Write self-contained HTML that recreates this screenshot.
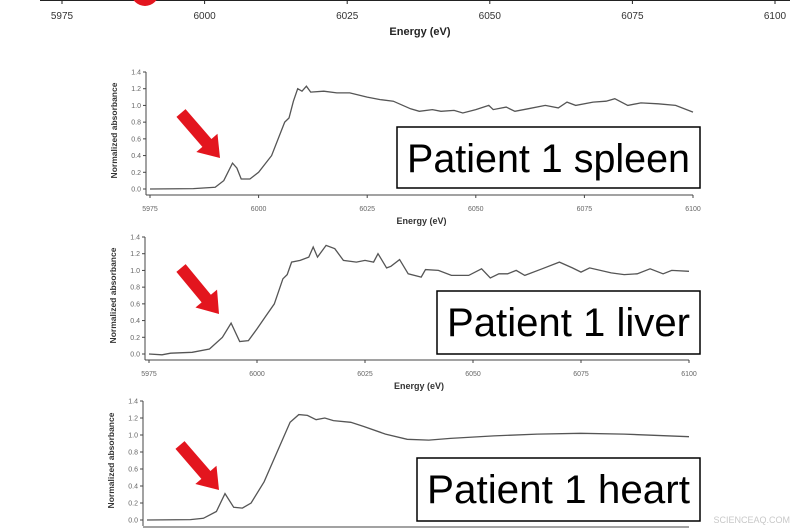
<!DOCTYPE html>
<html><head><meta charset="utf-8"><style>
html,body{margin:0;padding:0;background:#fff;}
body{width:800px;height:530px;overflow:hidden;position:relative;font-family:"Liberation Sans",sans-serif;}
svg{position:absolute;left:0;top:0;}
</style></head><body>
<svg id="chart" width="800" height="530"></svg>
<script>
const ticksX=[5975,6000,6025,6050,6075,6100];
const ticksY=[0,0.2,0.4,0.6,0.8,1.0,1.2,1.4];
const spleenE=[5975,5985,5990,5992,5994,5995,5996,5998,6000,6003,6006,6007,6008,6009,6010,6011,6012,6015,6018,6021,6025,6028,6031,6035,6037,6040,6042,6045,6047,6050,6053,6054,6057,6059,6062,6066,6069,6071,6073,6077,6080,6082,6085,6088,6092,6096,6100];
const spleenV=[0,0.005,0.02,0.1,0.31,0.25,0.12,0.12,0.2,0.4,0.8,0.85,1.05,1.2,1.17,1.23,1.16,1.17,1.15,1.15,1.1,1.07,1.05,0.96,0.93,0.95,0.93,0.94,0.91,0.95,1.0,0.95,0.98,0.93,0.96,1.0,0.97,1.04,1.0,1.04,1.05,1.08,1.0,1.03,1.02,1.0,0.92];
const liverE=[5975,5978,5980,5985,5989,5992,5994,5996,5998,6000,6002,6004,6006,6007,6008,6010,6012,6013,6014,6016,6018,6020,6023,6025,6027,6028,6030,6031,6033,6035,6038,6039,6042,6045,6049,6052,6054,6056,6058,6060,6062,6066,6070,6073,6075,6077,6082,6085,6088,6091,6094,6096,6100];
const liverV=[0,-0.01,0.01,0.02,0.06,0.2,0.37,0.15,0.16,0.3,0.45,0.6,0.9,0.95,1.1,1.12,1.16,1.28,1.16,1.3,1.26,1.12,1.1,1.12,1.1,1.2,1.03,1.05,1.13,0.96,0.92,1.01,1.0,0.94,0.94,1.02,0.91,0.96,0.96,1.0,0.94,1.02,1.1,1.03,0.98,1.03,0.97,0.95,0.96,1.02,0.96,1.0,0.99];
const heartE=[5975,5985,5988,5991,5993,5995,5997,5999,6002,6005,6008,6010,6012,6014,6016,6018,6022,6025,6030,6035,6040,6045,6055,6065,6075,6085,6100];
const heartV=[0,0.005,0.02,0.1,0.31,0.15,0.14,0.2,0.45,0.8,1.15,1.24,1.23,1.18,1.2,1.17,1.15,1.1,1.01,0.95,0.94,0.96,0.99,1.01,1.02,1.01,0.98];

const NS="http://www.w3.org/2000/svg";
const svg=document.getElementById('chart');
function mk(tag,attrs,parent,text){const e=document.createElementNS(NS,tag);for(const k in attrs)e.setAttribute(k,attrs[k]);if(text!==undefined)e.textContent=text;(parent||svg).appendChild(e);return e;}

const topG=mk('g',{});


const tx=v=>62+(v-5975)*(775-62)/125;
mk('line',{x1:40,y1:0.5,x2:790,y2:0.5,stroke:'#222','stroke-width':1},topG);
mk('circle',{cx:145,cy:-8,r:14,fill:'#e3151e'},topG);
ticksX.forEach(v=>{mk('line',{x1:tx(v),y1:0,x2:tx(v),y2:4,stroke:'#222'},topG);
 const t=mk('text',{x:tx(v),y:19,'font-size':10,'text-anchor':'middle',fill:'#333'},topG,String(v));
 
 });
const tt=mk('text',{x:420,y:35,'font-size':11,'font-weight':'bold','text-anchor':'middle',fill:'#222'},topG,'Energy (eV)');



function panel(name,E,V,x0,x1,y0,y14,label,box,arrow,showBottom){
 const g=mk('g',{});
 
 
 const X=v=>x0+(v-5975)*(x1-x0)/125;
 const Y=v=>y0+(v)*(y14-y0)/1.4;
 const base=y0+6;
 mk('line',{x1:x0-4,y1:Y(1.4),x2:x0-4,y2:base,stroke:'#444','stroke-width':1},g);
 ticksY.forEach(v=>{mk('line',{x1:x0-7,y1:Y(v),x2:x0-4,y2:Y(v),stroke:'#444'},g);
  const t=mk('text',{x:x0-9,y:Y(v)+2.5,'font-size':7,'text-anchor':'end',fill:'#666'},g,v.toFixed(1));
  
  });
 const yl=mk('text',{transform:`translate(${x0-33},${(Y(1.4)+y0)/2}) rotate(-90)`,'font-size':8.5,'font-weight':'bold','text-anchor':'middle',fill:'#333'},g,'Normalized absorbance');
 
 
 if(showBottom){
  mk('line',{x1:x0-4,y1:base,x2:x1,y2:base,stroke:'#444'},g);
  ticksX.forEach(v=>{mk('line',{x1:X(v),y1:base,x2:X(v),y2:base+3,stroke:'#444'},g);
   const t=mk('text',{x:X(v),y:base+16,'font-size':7,'text-anchor':'middle',fill:'#666'},g,String(v));
   
   });
  const xl=mk('text',{x:(x0+x1)/2,y:base+29,'font-size':9,'font-weight':'bold','text-anchor':'middle',fill:'#333'},g,'Energy (eV)');
  
  
 } else {
  mk('line',{x1:x0-4,y1:base+1,x2:x1,y2:base+1,stroke:'#444'},g);
 }
 const d=E.map((e,i)=>(i?'L':'M')+X(e).toFixed(1)+','+Y(V[i]).toFixed(1)).join(' ');
 const p=mk('path',{d:d,fill:'none',stroke:'#555','stroke-width':1.3},g);
 
 
 const [ax1,ay1,ax2,ay2]=arrow;
 const ang=Math.atan2(ay2-ay1,ax2-ax1)*180/Math.PI;
 const L=Math.hypot(ax2-ax1,ay2-ay1);
 const ar=mk('polygon',{points:`0,-6 ${L-20},-6 ${L-20},-14 ${L},0 ${L-20},14 ${L-20},6 0,6`,fill:'#e3151e',transform:`translate(${ax1},${ay1}) rotate(${ang})`},g);
 
 
 const [bx,by,bw,bh]=box;
 const r=mk('rect',{x:bx,y:by,width:bw,height:bh,fill:'#fff',stroke:'#000','stroke-width':1.5},g);
 
 
 const lt=mk('text',{x:bx+10,y:by+45,'font-size':40,textLength:bw-20,lengthAdjust:'spacingAndGlyphs',fill:'#000','font-family':'"Liberation Sans Narrow","Liberation Sans",sans-serif'},g,label);
 
 
}
panel('spleen',spleenE,spleenV,150,693,189,72,'Patient 1 spleen',[397,127,303,61],[181,113,220,158],true);
panel('liver',liverE,liverV,149,689,354,237,'Patient 1 liver',[437,291,263,63],[181,268,219,314],true);
panel('heart',heartE,heartV,147,689,520,401,'Patient 1 heart',[417,458,283,63],[180,445,219,490],false);
const wm=mk('text',{x:790,y:523,'font-size':9,'text-anchor':'end',fill:'#c8c8c8'},svg,'SCIENCEAQ.COM');


</script>
</body></html>
